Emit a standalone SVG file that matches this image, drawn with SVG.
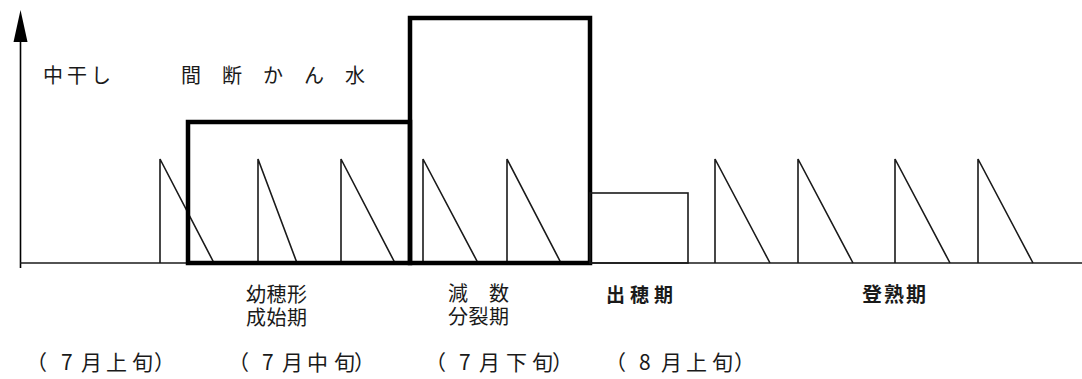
<svg xmlns="http://www.w3.org/2000/svg" width="1082" height="379" viewBox="0 0 1082 379">
<style>
.t{font-family:"Noto Sans CJK JP","Noto Sans CJK SC",sans-serif;fill:#1a1a1a}
.thin{fill:none;stroke:#1a1a1a;stroke-width:1.6}
.thick{fill:none;stroke:#000;stroke-width:4.5}
.tooth{fill:none;stroke:#1a1a1a;stroke-width:1.6}
</style>
<g id="connectors">
<line x1="20.5" y1="268" x2="20.5" y2="38" stroke="#000" stroke-width="1.6"/>
<polygon points="20.5,10 27.5,42 13.5,42" fill="#000"/>
<line x1="20" y1="263" x2="1082" y2="263" stroke="#1a1a1a" stroke-width="1.6"/>
</g>
<g id="teeth">
<path class="tooth" d="M160 263 V159 L214 263"/>
<path class="tooth" d="M258 263 V159 L297 263"/>
<path class="tooth" d="M341 263 V159 L395 263"/>
<path class="tooth" d="M423 263 V159 L478 263"/>
<path class="tooth" d="M507 263 V159 L561 263"/>
<path class="tooth" d="M715 263 V159 L770 263"/>
<path class="tooth" d="M798 263 V159 L853 263"/>
<path class="tooth" d="M895 263 V159 L950 263"/>
<path class="tooth" d="M978 263 V159 L1033 263"/>
</g>
<g id="box-youhokei"><rect class="thick" x="188" y="122" width="222" height="141"/></g>
<g id="box-gensu"><rect class="thick" x="410" y="18" width="180" height="245"/></g>
<g id="box-shussui"><rect class="thin" x="590" y="193" width="98" height="70"/></g>
<g id="label-nakaboshi"><text class="t" x="43 67 91" y="83" font-size="20">中干し</text></g>
<g id="label-kandan"><text class="t" x="181 201 222 242 263 283 304 324 345" y="83" font-size="20">間 断 か ん 水</text></g>
<g id="label-youhokei"><text class="t" font-size="20" letter-spacing="0.5"><tspan x="246" y="302">幼穂形</tspan><tspan x="246" y="325">成始期</tspan></text></g>
<g id="label-gensu"><text class="t" font-size="20" letter-spacing="0.5"><tspan x="448" y="301">減　数</tspan><tspan x="448" y="324">分裂期</tspan></text></g>
<g id="label-shussui"><text class="t" font-size="19" x="606 620 630 644 654" y="302" font-weight="bold">出 穂 期</text></g>
<g id="label-toujuku"><text class="t" font-size="20" x="862" y="302" font-weight="bold" letter-spacing="2">登熟期</text></g>
<g id="dates" font-size="21">
<text class="t" x="26 61 81 106 132 154" y="370">（7月上旬）</text>
<text class="t" x="228 262 282 307 334 354" y="370">（7月中旬）</text>
<text class="t" x="425 459 479 506 532 552" y="370">（7月下旬）</text>
<text class="t" x="605 639 661 686 712 734" y="370">（8月上旬）</text>
</g>
</svg>
